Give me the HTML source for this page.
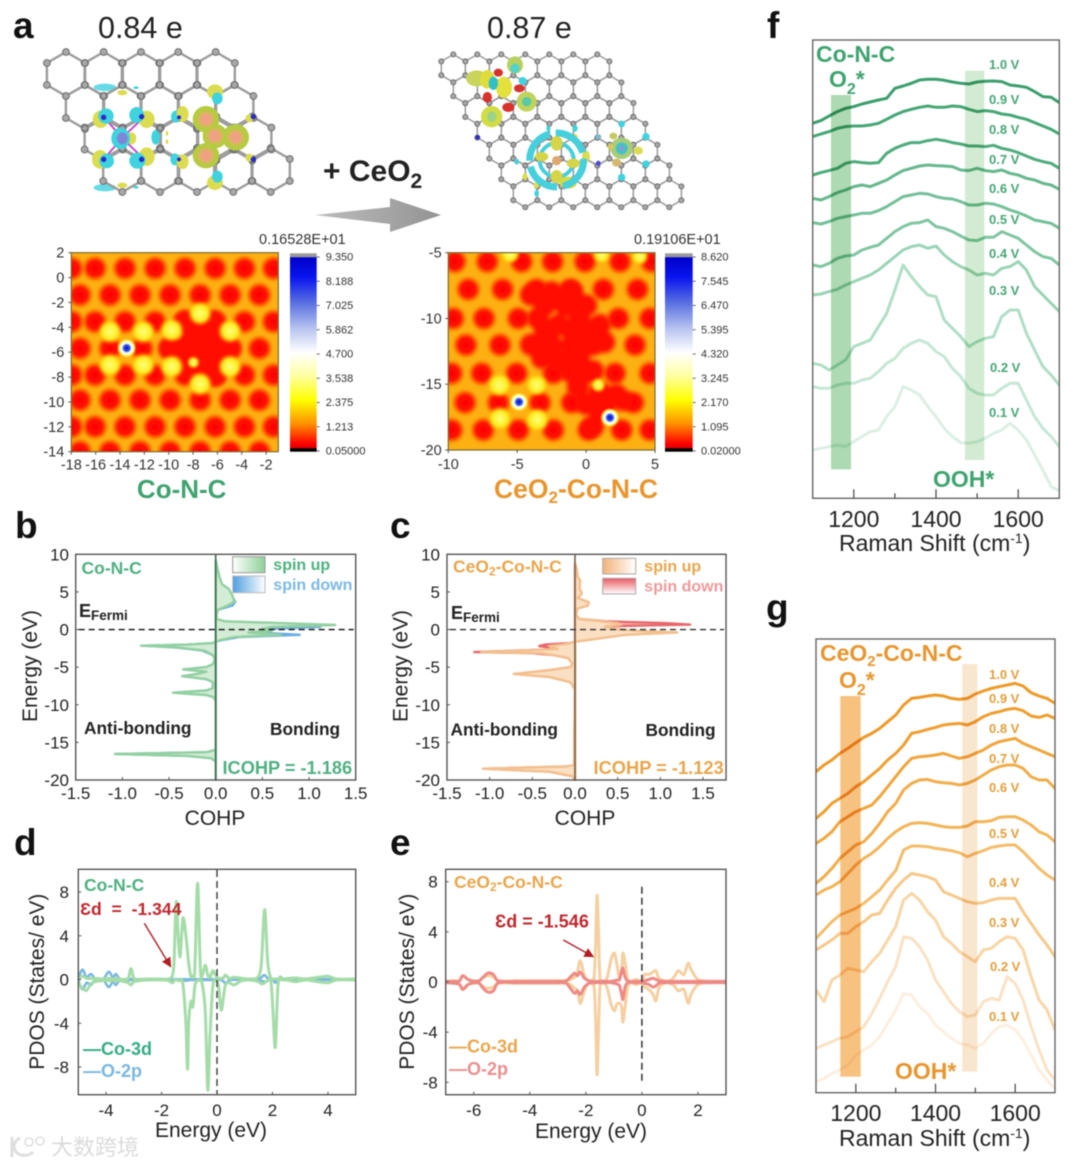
<!DOCTYPE html>
<html lang="en">
<head>
<meta charset="utf-8">
<title>Co-N-C and CeO2-Co-N-C charge, COHP, PDOS and Raman figure</title>
<style>
html,body{margin:0;padding:0;background:#fff;width:1080px;height:1166px;overflow:hidden}
svg{display:block;filter:blur(0.45px)}
text{font-family:"Liberation Sans","Noto Sans CJK SC",sans-serif;fill:#222}
.panel{font-size:37px;font-weight:bold;fill:#111}
.b{font-weight:bold}
.green{fill:#4fb082}
.dgreen{fill:#3fa36f}
.orange{fill:#e9a64c}
.dorange{fill:#e8962e}
.red{fill:#c0272d}
.volt-f{font-size:13px;font-weight:bold;fill:#46a676}
.volt-g{font-size:13px;font-weight:bold;fill:#e39f3c}
.tick{font-size:17px}
.axt{font-size:21px}
.hm{font-size:14.5px;fill:#333}
.cb{font-size:11px;fill:#333}
.ram{font-size:23px}
</style>
</head>
<body>
<svg id="fig" xmlns="http://www.w3.org/2000/svg" width="1080" height="1166" viewBox="0 0 1080 1166">
<defs>
<filter id="softField" x="-5%" y="-5%" width="110%" height="110%"><feGaussianBlur stdDeviation="1.1"/></filter>
<filter id="softCore" x="-10%" y="-10%" width="120%" height="120%"><feGaussianBlur stdDeviation="2.2"/></filter>
<radialGradient id="pitGrad"><stop offset="0" stop-color="#ff0000"/><stop offset="0.55" stop-color="#ff1000"/><stop offset="0.8" stop-color="#ff6a00" stop-opacity="0.85"/><stop offset="1" stop-color="#ffa000" stop-opacity="0"/></radialGradient>
<radialGradient id="spotGrad"><stop offset="0" stop-color="#ffff80"/><stop offset="0.6" stop-color="#ffee20"/><stop offset="1" stop-color="#ffb000" stop-opacity="0"/></radialGradient>
<radialGradient id="blueGrad"><stop offset="0" stop-color="#0010d0"/><stop offset="0.3" stop-color="#3050e0"/><stop offset="0.5" stop-color="#ffffff"/><stop offset="0.72" stop-color="#ffff90"/><stop offset="1" stop-color="#ffc000" stop-opacity="0"/></radialGradient>
<linearGradient id="cbGrad" x1="0" y1="0" x2="0" y2="1">
<stop offset="0" stop-color="#999"/><stop offset="0.018" stop-color="#999"/><stop offset="0.022" stop-color="#0000c8"/><stop offset="0.12" stop-color="#0a14f0"/><stop offset="0.25" stop-color="#5a70e0"/><stop offset="0.38" stop-color="#b8c4f0"/><stop offset="0.5" stop-color="#ffffff"/><stop offset="0.62" stop-color="#ffffa0"/><stop offset="0.74" stop-color="#ffff00"/><stop offset="0.86" stop-color="#ff9000"/><stop offset="0.96" stop-color="#ff0000"/><stop offset="0.98" stop-color="#e00000"/><stop offset="0.985" stop-color="#000"/><stop offset="1" stop-color="#000"/>
</linearGradient>
<linearGradient id="swGreen"><stop offset="0" stop-color="#fff"/><stop offset="1" stop-color="#8fd09a"/></linearGradient>
<linearGradient id="swBlue"><stop offset="0" stop-color="#4f9fe0"/><stop offset="1" stop-color="#fff"/></linearGradient>
<linearGradient id="swOrange"><stop offset="0" stop-color="#f2b27a"/><stop offset="1" stop-color="#fff"/></linearGradient>
<linearGradient id="swRed" x1="0" y1="0" x2="0" y2="1"><stop offset="0" stop-color="#ea5a62"/><stop offset="1" stop-color="#fff"/></linearGradient>
<linearGradient id="arrowGrad"><stop offset="0" stop-color="#bdbdbd"/><stop offset="1" stop-color="#939393"/></linearGradient>
<clipPath id="clipA"><rect x="71.3" y="252.7" width="207" height="199"/></clipPath>
<clipPath id="clipB"><rect x="448.3" y="252.7" width="206.7" height="197.3"/></clipPath>
<clipPath id="clipF"><rect x="812.7" y="40" width="246.6" height="458.3"/></clipPath>
<clipPath id="clipG"><rect x="816" y="639" width="239" height="453.7"/></clipPath>
<clipPath id="clipD"><rect x="78.3" y="869.3" width="277.4" height="225.4"/></clipPath>
<clipPath id="clipE"><rect x="445.7" y="869.3" width="280.3" height="225.4"/></clipPath>
<marker id="arrowHead" viewBox="0 0 10 10" refX="9" refY="5" markerWidth="7" markerHeight="7" orient="auto"><path d="M0 0L10 5L0 10z" fill="#b01e24"/></marker>
</defs>

<text class="panel" x="13" y="38">a</text>
<text class="panel" x="15" y="538">b</text>
<text class="panel" x="390" y="538">c</text>
<text class="panel" x="14" y="855">d</text>
<text class="panel" x="390" y="855">e</text>
<text class="panel" x="767" y="38">f</text>
<text class="panel" x="766" y="620">g</text>

<text x="98" y="38" font-size="30.5">0.84 e</text>
<text x="487" y="38" font-size="30.5">0.87 e</text>
<text x="323" y="181" font-size="30" class="b" fill="#111">+ CeO<tspan font-size="21" dy="7">2</tspan></text>
<polygon points="315,215 390,207 390,198 441,215 390,232 390,224" fill="url(#arrowGrad)"/>

<g id="structA"></g>
<g id="structB"></g>

<g id="mapA"></g>
<g id="mapB"></g>
<text x="259" y="244" class="hm">0.16528E+01</text>
<text x="634" y="244" class="hm">0.19106E+01</text>
<text x="181.7" y="498" font-size="26" text-anchor="middle" class="b dgreen">Co-N-C</text>
<text x="576" y="498" font-size="26.5" text-anchor="middle" class="b dorange">CeO<tspan font-size="17" dy="5">2</tspan><tspan dy="-5">-Co-N-C</tspan></text>

<g id="panelB"></g>
<g id="panelC"></g>
<g id="panelD"></g>
<g id="panelE"></g>
<g id="panelF"></g>
<g id="panelG"></g>

<g>
<text x="81.5" y="574" font-size="17.5" class="b green">Co-N-C</text>
<rect x="232.7" y="556.7" width="32.3" height="16" fill="url(#swGreen)" stroke="#999"/>
<rect x="232.7" y="576" width="32.3" height="16.7" fill="url(#swBlue)" stroke="#bbb"/>
<text x="273.3" y="570" font-size="16" class="b" style="fill:#4fb07f">spin up</text>
<text x="273.3" y="590" font-size="16" class="b" style="fill:#7bb9e3">spin down</text>
<text x="79" y="617" font-size="18" class="b">E<tspan font-size="13.5" dy="3">Fermi</tspan></text>
<text x="84" y="734" font-size="17.3" class="b">Anti-bonding</text>
<text x="270" y="735" font-size="17.3" class="b">Bonding</text>
<text x="222.5" y="774" font-size="18.2" class="b green">ICOHP = -1.186</text>
</g>
<g>
<text x="453" y="572.7" font-size="17.5" class="b orange">CeO<tspan font-size="12" dy="3">2</tspan><tspan dy="-3">-Co-N-C</tspan></text>
<rect x="602.7" y="558.3" width="33" height="15.7" fill="url(#swOrange)" stroke="#aaa"/>
<rect x="602.7" y="578.3" width="33" height="15.7" fill="url(#swRed)" stroke="#aaa"/>
<text x="644.3" y="571.7" font-size="16" class="b orange">spin up</text>
<text x="644.3" y="591.7" font-size="16" class="b" style="fill:#ec9a9a">spin down</text>
<text x="451" y="619" font-size="18" class="b">E<tspan font-size="13.5" dy="3">Fermi</tspan></text>
<text x="450.5" y="735.3" font-size="17.3" class="b">Anti-bonding</text>
<text x="645.5" y="736" font-size="17.3" class="b">Bonding</text>
<text x="593.5" y="774" font-size="18.3" class="b orange">ICOHP = -1.123</text>
</g>
<g>
<text x="84" y="891" font-size="17.5" class="b green">Co-N-C</text>
<text x="80" y="915" font-size="17.6" class="b red" xml:space="preserve">Ɛd  =  -1.344</text>
<line x1="144.3" y1="923.3" x2="170.7" y2="966.7" stroke="#b01e24" stroke-width="1.4" marker-end="url(#arrowHead)"/>
<text x="83" y="1055" font-size="18" class="b" style="fill:#35ad85">—Co-3d</text>
<text x="83" y="1077" font-size="18" class="b" style="fill:#7ab8e0">—O-2p</text>
</g>
<g>
<text x="454" y="888" font-size="17.5" class="b orange">CeO<tspan font-size="12" dy="3">2</tspan><tspan dy="-3">-Co-N-C</tspan></text>
<text x="495" y="927.3" font-size="18" class="b red">Ɛd = -1.546</text>
<line x1="563.3" y1="940" x2="593.3" y2="956.7" stroke="#b01e24" stroke-width="1.4" marker-end="url(#arrowHead)"/>
<text x="449" y="1052.7" font-size="18" class="b orange">—Co-3d</text>
<text x="449" y="1075" font-size="18" class="b" style="fill:#ea8f8f">—O-2p</text>
</g>

<g>
<text x="816" y="62" font-size="23" class="b dgreen">Co-N-C</text>
<text x="829" y="87" font-size="23" class="b dgreen">O<tspan font-size="16" dy="7">2</tspan><tspan dy="-7">*</tspan></text>
<text x="933" y="487" font-size="23" class="b dgreen">OOH*</text>
<text x="989" y="69" class="volt-f">1.0 V</text>
<text x="989" y="104" class="volt-f">0.9 V</text>
<text x="989" y="134" class="volt-f">0.8 V</text>
<text x="989" y="164" class="volt-f">0.7 V</text>
<text x="989" y="193" class="volt-f">0.6 V</text>
<text x="989" y="224" class="volt-f">0.5 V</text>
<text x="989" y="258" class="volt-f">0.4 V</text>
<text x="989" y="295" class="volt-f">0.3 V</text>
<text x="990" y="372" class="volt-f">0.2 V</text>
<text x="989" y="417" class="volt-f">0.1 V</text>
<text x="839" y="551" class="ram">Raman Shift (cm<tspan font-size="14" dy="-8">-1</tspan><tspan dy="8">)</tspan></text>
</g>
<g>
<text x="820" y="661" font-size="23" class="b dorange">CeO<tspan font-size="15" dy="5">2</tspan><tspan dy="-5">-Co-N-C</tspan></text>
<text x="839" y="688" font-size="23" class="b dorange">O<tspan font-size="16" dy="7">2</tspan><tspan dy="-7">*</tspan></text>
<text x="895" y="1079" font-size="23" class="b dorange">OOH*</text>
<text x="989" y="679" class="volt-g">1.0 V</text>
<text x="989" y="703" class="volt-g">0.9 V</text>
<text x="989" y="733" class="volt-g">0.8 V</text>
<text x="989" y="763" class="volt-g">0.7 V</text>
<text x="989" y="792" class="volt-g">0.6 V</text>
<text x="989" y="838" class="volt-g">0.5 V</text>
<text x="989" y="887" class="volt-g">0.4 V</text>
<text x="989" y="927" class="volt-g">0.3 V</text>
<text x="990" y="971" class="volt-g">0.2 V</text>
<text x="989" y="1021" class="volt-g">0.1 V</text>
<text x="839" y="1146" class="ram">Raman Shift (cm<tspan font-size="14" dy="-8">-1</tspan><tspan dy="8">)</tspan></text>
</g>

<g opacity="0.9">
<path d="M12 1137v20M20 1138c-8 4-8 14 1 17 5 1 9 0 12-3" fill="none" stroke="#dcdcdc" stroke-width="3"/>
<circle cx="29" cy="1142" r="4" fill="none" stroke="#dcdcdc" stroke-width="1.6"/>
<circle cx="40" cy="1141" r="4" fill="none" stroke="#dcdcdc" stroke-width="1.6"/>
<text x="51" y="1155" font-size="22" style="fill:#d8d8d8">大数跨境</text>
</g>
</svg>

<script>
/* ---------- chart data ---------- */
var heatXTicksA = [-18,-16,-14,-12,-10,-8,-6,-4,-2];
var heatYTicksA = [2,0,-2,-4,-6,-8,-10,-12,-14];
var heatXTicksB = [-10,-5,0,5];
var heatYTicksB = [-5,-10,-15,-20];
var cbLabelsA = ['9.350','8.188','7.025','5.862','4.700','3.538','2.375','1.213','0.05000'];
var cbLabelsB = ['8.620','7.545','6.470','5.395','4.320','3.245','2.170','1.095','0.02000'];

var pitRowYA = [0.74,-1.4,-3.55,-5.69,-7.84,-9.85,-12,-14];
var pitRowXA = [
 [-17.97,-16.05,-13.59,-11.12,-8.66,-6.19,-3.78,-1.4],
 [-17.29,-14.82,-12.36,-9.89,-7.42,-4.96,-2.55],
 [-17.97,-16.05,-13.59,-11.12,-8.66,-6.4,-3.78,-1.4],
 [-17.29,-14.82,-12.2,-9.89,-7.42,-4.96,-2.55],
 [-17.97,-16.05,-13.59,-11.12,-8.66,-6.19,-3.78,-1.4],
 [-17.29,-14.82,-12.36,-9.89,-7.42,-4.96,-2.55],
 [-17.97,-16.05,-13.59,-11.12,-8.66,-6.19,-3.78,-1.4],
 [-17.29,-14.82,-12.36,-9.89,-7.42,-4.96,-2.55]
];
var coreXA = [-8.66,-6.19,-7.4,-8.2,-7,-5.8,-9,-9.9,-5,-7.6,-6.4,-8.66,-6.19,-7.4,-6.19];
var coreYA = [-3.55,-3.55,-4.2,-5,-5,-5,-5.7,-5.7,-5.7,-6.5,-6.5,-7.2,-7.0,-7.2,-7.84];
var spotXA = [-14.82,-12.08,-9.75,-7.42,-4.96,-14.82,-12.08,-9.75,-7.42,-4.96,-7.97];
var spotYA = [-4.35,-4.35,-4.22,-2.88,-4.3,-7.03,-7.03,-7.17,-8.56,-7.17,-6.82];
var spotSizeA = [1,1,1,1,1,1,1,1,1,1,0.5];
var blueXA = [-13.45];
var blueYA = [-5.67];

var pitRowYB = [-5.68,-7.79,-10,-12.02,-14.17,-16.4,-18.48];
var pitRowXB = [
 [-9.52,-7.17,-4.68,-2.43,-0.08,2.46,4.76],
 [-8.55,-6.06,-3.59,-1.17,1.25,3.72],
 [-9.64,-7.41,-4.92,2.34,4.64],
 [-8.72,-6.25,3.55],
 [-9.76,-7.58,-5.04,-2.38,-0.2,2.1,4.64],
 [-8.79,-6.37,-3.35,-1.05,1.5,3.43],
 [-9.76,-7.46,-4.92,-2.38,0.16,2.58,4.64]
];
var coreXB = [-4,-2.5,-1,-3.5,-2,-0.5,1,-4,-2.5,-1,0.5,1.3,-2,-0.5,1,2.2,0,1,2.6,0.5,-3,-1.5,0,-3,-1,0,-3.2,-1.2,0.5,-0.6];
var coreYB = [-8.2,-8,-8,-10,-10.5,-10,-10.5,-12,-12,-12,-12,-11.8,-13.2,-13,-15.6,-15.8,-16.5,-17,-16.2,-18.2,-9,-9,-9,-11,-11,-11,-13,-14,-14,-15.2];
var spotXB = [-6.3,-3.59,-6.25,-3.54,0.89,-5.52,1.13,3.9];
var spotYB = [-15.06,-15.06,-17.6,-17.7,-15.06,-5.1,-5.18,-5.3];
var spotSizeB = [1,0.9,1,1,0.6,0.8,0.7,0.7];
var blueXB = [-4.87,1.73];
var blueYB = [-16.35,-17.54];

var cohpXTicks = [-1.5,-1.0,-0.5,0.0,0.5,1.0,1.5];
var cohpYTicks = [10,5,0,-5,-10,-15,-20];

var bEnergy = [9.2,8,7,6,5.4,4.5,3.7,3.2,2.6,2,1.4,1.1,0.85,0.6,0.35,0.1,-0.15,-0.4,-0.7,-1,-1.4,-1.6,-1.8,-2,-2.15,-2.4,-2.8,-3.4,-4,-4.6,-5,-5.3,-5.6,-5.9,-6.2,-6.6,-7,-7.8,-8.1,-8.4,-8.7,-9,-9.5,-16,-16.3,-16.55,-16.8,-17.1,-17.5,-20];
var bSpinUp = [0,0.02,0.04,0.07,0.14,0.18,0.2,0.13,0.02,0.01,0.01,0.1,0.7,1.28,0.6,0.5,0.6,0.35,0.7,0.2,0.05,0,-0.03,-0.3,-0.8,-0.4,-0.12,-0.03,-0.01,-0.03,-0.1,-0.35,-0.1,-0.2,-0.36,-0.1,-0.03,-0.03,-0.1,-0.46,-0.1,-0.02,0,0,-0.1,-1.08,-0.3,-0.05,0,0];
var bSpinDown = [0,0.02,0.04,0.06,0.13,0.17,0.21,0.18,0.02,0.01,0.01,0.08,0.5,1.0,1.12,0.6,0.5,0.45,0.9,0.25,0.07,0,-0.03,-0.3,-0.76,-0.42,-0.14,-0.03,-0.01,-0.03,-0.1,-0.34,-0.1,-0.2,-0.34,-0.1,-0.03,-0.03,-0.1,-0.44,-0.1,-0.02,0,0,-0.1,-1.05,-0.3,-0.05,0,0];

var cEnergy = [8.8,8,7,6.5,5.5,4.8,4.2,3.6,3.2,2.8,2,1.4,1.1,0.85,0.65,0.4,0.1,-0.15,-0.4,-0.7,-1,-1.4,-1.6,-1.8,-2,-2.2,-2.6,-3,-3.15,-3.4,-3.8,-4.5,-5,-5.4,-5.9,-6.3,-7,-8,-18,-18.2,-18.5,-18.9,-19.5,-20];
var cSpinUp = [0,0.02,0.03,0.06,0.05,0.08,0.03,0.16,0.15,0.03,0.01,0.05,0.3,0.5,0.55,0.35,0.45,0.7,1.2,0.6,0.4,0.15,0,-0.05,-0.15,-0.3,-0.2,-1.1,-0.4,-0.25,-0.08,-0.03,-0.05,-0.3,-0.72,-0.3,-0.05,0,-0.01,-0.1,-1.08,-0.3,-0.03,0];
var cSpinDown = [0,0.02,0.03,0.06,0.05,0.08,0.03,0.16,0.15,0.03,0.01,0.05,0.35,1.05,1.35,0.2,0.4,0.6,1.1,0.55,0.38,0.14,0,-0.06,-0.35,-0.42,-0.2,-1.18,-0.5,-0.25,-0.08,-0.03,-0.05,-0.3,-0.7,-0.3,-0.05,0,-0.01,-0.1,-1.05,-0.3,-0.03,0];

var dXTicks = [-4,-2,0,2,4];
var dYTicks = [8,4,0,-4,-8];
var dEnergy = [-5,-4.85,-4.7,-4.55,-4.4,-4.1,-3.9,-3.75,-3.65,-3.5,-3.2,-3.1,-3,-2.5,-2,-1.75,-1.6,-1.55,-1.47,-1.4,-1.33,-1.23,-1.12,-1.06,-1.02,-0.94,-0.87,-0.8,-0.7,-0.6,-0.54,-0.42,-0.33,-0.25,-0.15,-0.05,0.05,0.15,0.25,0.3,0.45,0.6,0.9,1.2,1.5,1.6,1.72,1.83,1.95,2.02,2.1,2.2,2.4,2.83,3.2,4,4.3,5];
var dCo3dUp = [0.1,0.3,0.1,0.1,0.1,0.05,0.1,0.05,0.1,0.05,0.1,1,0.1,0.05,0.05,0.05,0.4,1.5,7.1,4,2.1,5.6,4,2.5,1.5,0.3,0.3,0.9,8.8,0.9,0.3,1.3,0.4,0.2,0.8,0.4,0.1,0.1,0.2,0.4,0.1,0.2,0.1,0.05,0.3,1.5,6.4,1.5,0.1,0.05,0.05,0.05,0.05,0.15,0.05,0.3,0.05,0.05];
var dCo3dDown = [-0.3,-0.8,-1,-0.4,-0.2,-0.1,-0.1,-0.1,-0.1,-0.1,-0.3,-0.5,-0.2,-0.05,-0.05,-0.1,-0.3,-0.1,-0.05,-0.1,-0.1,-0.4,-4,-8.2,-4,-2,-2.5,-0.6,-0.1,-0.1,-0.3,-3,-10.1,-5,-0.6,-0.1,-0.5,-2.8,-1.3,-0.5,-0.3,-0.5,-0.1,-0.05,-0.2,-0.4,-0.3,-0.1,-0.3,-3,-6.2,-0.5,-0.05,-0.2,-0.05,-0.3,-0.05,-0.05];
var dO2pUp = [0.1,0.9,0.2,0.5,0.1,0.05,0.7,0.2,0.5,0.05,0.05,0.05,0.05,0.02,0.02,0.02,0.02,0.02,0.02,0.02,0.02,0.02,0.02,0.02,0.02,0.02,0.02,0.02,0.02,0.02,0.02,0.02,0.02,0.02,0.02,0.02,0.02,0.05,0.2,0.4,0.05,0.02,0.02,0.02,0.05,0.2,0.4,0.1,0.02,0.02,0.02,0.02,0.02,0.02,0.02,0.02,0.02,0.02];
var dO2pDown = [-0.1,-0.9,-0.3,-0.5,-0.1,-0.05,-0.7,-0.2,-0.5,-0.05,-0.05,-0.05,-0.05,-0.02,-0.02,-0.02,-0.05,-0.05,-0.05,-0.05,-0.05,-0.1,-0.1,-0.1,-0.05,-0.05,-0.05,-0.05,-0.05,-0.05,-0.05,-0.05,-0.05,-0.05,-0.02,-0.02,-0.02,-0.05,-0.2,-0.4,-0.05,-0.02,-0.02,-0.02,-0.05,-0.1,-0.2,-0.1,-0.02,-0.02,-0.3,-0.02,-0.02,-0.02,-0.02,-0.02,-0.02,-0.02];

var eXTicks = [-6,-4,-2,0,2];
var eYTicks = [8,4,0,-4,-8];
var eEnergy = [-7,-6.7,-6.5,-6.4,-6.2,-6,-5.8,-5.7,-5.5,-5.3,-5.15,-4.5,-3.5,-3,-2.7,-2.55,-2.4,-2.3,-2.2,-2.05,-1.9,-1.75,-1.7,-1.65,-1.6,-1.55,-1.5,-1.4,-1.25,-1.1,-0.98,-0.9,-0.8,-0.72,-0.68,-0.6,-0.5,-0.2,0,0.1,0.25,0.4,0.5,0.6,0.8,1,1.15,1.3,1.5,1.65,1.75,2,2.5,3];
var eCo3dUp = [0.05,0.1,0.1,0.5,0.2,0.1,0.1,0.3,0.5,0.4,0.1,0.1,0.1,0.1,0.1,0.2,0.4,0.8,1.7,0.5,0.1,0.2,0.5,3,6.9,4,0.4,0.1,0.3,1.8,2.3,1.5,0.3,1,2.3,1.5,0.2,0.2,0.1,0.6,0.6,0.8,0.9,0.3,0.1,0.1,0.4,0.9,0.6,1.5,1,0.2,0.05,0.05];
var eCo3dDown = [-0.05,-0.1,-0.2,-0.5,-0.2,-0.1,-0.1,-0.3,-0.5,-0.4,-0.1,-0.1,-0.1,-0.1,-0.1,-0.2,-0.5,-0.7,-1.7,-0.7,-0.1,-0.2,-0.5,-3,-7.4,-4,-0.5,-0.1,-0.4,-1.8,-2.3,-1.8,-1.7,-2,-3.2,-2,-0.3,-0.2,-0.1,-0.4,-0.6,-1,-1.5,-0.5,-0.1,-0.1,-0.3,-0.7,-0.6,-1.7,-1,-0.2,-0.05,-0.05];
var eO2pUp = [0.05,0.05,0.1,0.5,0.2,0.05,0.1,0.3,0.7,0.6,0.1,0.05,0.05,0.05,0.1,0.4,0.7,0.5,0.8,0.3,0.1,0.05,0.05,0.05,0.05,0.05,0.05,0.05,0.05,0.05,0.1,0.15,0.2,0.9,1.1,0.4,0.05,0.05,0.05,0.1,0.2,0.3,0.2,0.1,0.05,0.05,0.05,0.05,0.05,0.05,0.05,0.05,0.05,0.05];
var eO2pDown = [-0.05,-0.1,-0.2,-0.6,-0.2,-0.05,-0.1,-0.4,-0.8,-0.7,-0.1,-0.05,-0.05,-0.05,-0.1,-0.5,-0.9,-0.7,-1,-0.4,-0.1,-0.05,-0.05,-0.05,-0.05,-0.05,-0.05,-0.05,-0.05,-0.05,-0.1,-0.15,-0.3,-1,-1.4,-0.4,-0.05,-0.05,-0.05,-0.1,-0.2,-0.4,-0.3,-0.1,-0.05,-0.05,-0.05,-0.05,-0.05,-0.05,-0.05,-0.05,-0.05,-0.05];

var ramanTicks = [1200,1400,1600];
var ramanMinorTicks = [1300,1500];
var ramanShift = [1100,1120,1140,1160,1180,1200,1220,1240,1260,1280,1300,1320,1340,1360,1380,1400,1420,1440,1460,1480,1500,1520,1540,1560,1580,1600,1620,1640,1660,1680,1700];
var fV10 = [1125,1133,1147,1160,1170,1175,1183,1189,1195,1200,1230,1237,1245,1255,1257,1257,1254,1249,1245,1243,1249,1251,1252,1250,1240,1237,1233,1220,1205,1203,1187];
var fV09 = [1085,1093,1100,1110,1115,1117,1117,1120,1125,1137,1150,1160,1167,1173,1177,1173,1173,1177,1175,1167,1160,1163,1160,1153,1150,1143,1137,1127,1117,1107,1093];
var fV08 = [970,977,983,990,1005,1010,1007,1005,1007,1035,1050,1060,1067,1067,1073,1077,1073,1067,1063,1057,1057,1055,1059,1050,1045,1037,1027,1017,1010,1005,990];
var fV07 = [900,895,905,917,925,935,940,935,945,955,970,983,990,997,1000,998,997,995,985,983,990,983,980,985,975,970,960,955,945,940,927];
var fV06 = [827,823,830,840,845,850,855,855,863,875,890,905,910,915,913,905,900,898,890,880,880,885,883,875,865,857,847,835,830,825,810];
var fV05 = [700,695,705,720,727,730,745,753,760,780,800,815,825,827,835,815,810,800,787,775,773,783,783,800,790,780,760,740,725,720,700];
var fV04 = [610,613,620,627,640,650,660,670,685,705,725,745,755,760,750,757,730,710,695,685,670,675,670,690,695,710,685,635,610,585,560];
var fV03 = [405,400,385,400,415,455,465,475,515,555,625,700,665,635,610,605,535,510,485,455,470,480,485,545,565,565,495,445,395,370,340];
var fV02 = [335,330,330,340,345,345,355,360,380,405,420,450,465,475,465,440,425,390,365,330,315,310,310,330,345,345,295,245,210,185,155];
var fV01 = [145,150,155,160,155,170,185,200,205,245,275,335,325,310,275,245,210,185,167,165,170,180,195,205,225,205,175,130,85,35,23];

var gV10 = [963,983,998,1018,1033,1050,1066,1078,1093,1113,1133,1163,1183,1186,1190,1193,1190,1183,1180,1183,1196,1205,1213,1218,1223,1228,1220,1200,1190,1183,1168];
var gV09 = [823,843,868,883,898,918,933,953,973,998,1018,1043,1078,1083,1090,1096,1103,1106,1108,1103,1113,1128,1138,1143,1150,1153,1146,1130,1126,1133,1123];
var gV08 = [748,763,783,813,828,843,853,863,888,918,948,978,1003,1008,1010,1013,1018,1010,1003,1008,1018,1028,1043,1053,1058,1063,1048,1038,1028,1018,1008];
var gV07 = [628,648,673,703,723,743,753,778,808,843,868,908,928,938,940,933,930,928,923,928,938,953,968,978,983,983,973,948,938,938,913];
var gV06 = [593,608,618,633,658,683,703,718,738,763,783,798,808,810,808,803,798,796,796,800,813,813,816,826,828,828,818,803,783,773,753];
var gV05 = [463,488,513,533,543,553,568,588,608,638,666,728,740,740,738,733,730,726,720,708,718,726,736,740,743,743,723,698,673,653,638];
var gV04 = [428,443,458,478,478,498,513,533,538,578,613,638,658,653,648,638,603,593,583,573,568,570,578,583,583,583,543,508,473,443,408];
var gV03 = [308,273,338,353,373,368,363,393,418,458,498,578,598,578,543,518,468,448,423,408,393,428,433,453,468,463,428,348,278,248,188];
var gV02 = [133,143,153,163,168,183,198,238,283,333,378,468,463,438,398,338,303,268,243,228,233,273,283,278,348,328,278,198,128,68,38];
var gV01 = [33,43,58,68,83,113,128,143,168,208,248,298,293,258,238,203,183,163,148,143,133,148,178,198,203,188,158,113,68,38,13];

/* ---------- helpers ---------- */
var NS = 'http://www.w3.org/2000/svg';
function make(tag, attrs, parent) {
  var el = document.createElementNS(NS, tag);
  for (var k in attrs) el.setAttribute(k, attrs[k]);
  parent.appendChild(el);
  return el;
}
function scale(d0, d1, r0, r1) {
  return function (v) { return r0 + (v - d0) * (r1 - r0) / (d1 - d0); };
}
function byId(id) { return document.getElementById(id); }

/* ---------- structures ---------- */
function lattice(parent, rows, R, bondW, atomR) {
  var W = R * Math.sqrt(3) / 2, bonds = '', atoms = '';
  rows.forEach(function (row) {
    row[1].forEach(function (cx) {
      var cy = row[0];
      var pts = [[cx, cy - R], [cx + W, cy - R / 2], [cx + W, cy + R / 2], [cx, cy + R], [cx - W, cy + R / 2], [cx - W, cy - R / 2]];
      bonds += 'M' + pts.map(function (p) { return p[0].toFixed(1) + ' ' + p[1].toFixed(1); }).join('L') + 'Z';
      pts.forEach(function (p) {
        atoms += 'M' + (p[0] - atomR).toFixed(1) + ' ' + p[1].toFixed(1) + 'a' + atomR + ' ' + atomR + ' 0 1 0 ' + (2 * atomR) + ' 0a' + atomR + ' ' + atomR + ' 0 1 0 ' + (-2 * atomR) + ' 0z';
      });
    });
  });
  var b = make('path', { d: bonds, fill: 'none', stroke: '#9c9c9c', 'stroke-width': bondW }, parent);
  
  
  var a = make('path', { d: atoms, fill: '#a8a8a8', stroke: '#6f6f6f', 'stroke-width': 1 }, parent);
  
  
}
function blobs(parent, list, ox) {
  list.forEach(function (b) {
    var e = make('ellipse', { cx: ox + b[0] / 3, cy: b[1] / 3, rx: b[2] / 3, ry: b[3] / 3, fill: b[4], opacity: b[5] === undefined ? 1 : b[5] }, parent);
    
    
  });
}
var CY = '#3fd2df', YE = '#dcdc50', OL = '#b6ca42', SA = '#f0a184', NB = '#2a2ac8', RD = '#d8322c';
var rowsA = [[74, [66, 103.7, 141, 178.3, 215.7]], [107, [85, 122.3, 159.7, 197, 234.3]], [138.5, [103.7, 141.7, 179, 216.3, 252.3]], [170, [122.3, 160, 197, 233.3, 270.7]]];
blobs(byId('structA'), [[315, 262, 34, 11, CY, 0.8], [315, 563, 34, 11, CY, 0.8], [367, 278, 15, 8, YE], [367, 556, 15, 8, YE], [408, 263, 8, 4, CY], [408, 562, 8, 4, CY]], 0);
lattice(byId('structA'), rowsA, 22, 2.4, 3.4);
var bondsPink = make('path', { d: 'M104 117L122 138L144 117M104 159L122 138L144 159', fill: 'none', stroke: '#c050c8', 'stroke-width': 2 }, byId('structA'));


blobs(byId('structA'), [
 [302, 358, 24, 26, YE], [318, 348, 23, 23, CY], [440, 358, 24, 26, YE], [410, 345, 22, 24, CY],
 [300, 478, 24, 28, YE], [320, 483, 22, 22, CY], [440, 470, 24, 28, YE], [412, 482, 24, 24, CY],
 [395, 415, 14, 18, YE], [362, 415, 28, 32, CY], [367, 415, 16, 18, '#7f86d8'],
 [467, 412, 13, 22, CY], [501, 400, 4, 7, YE], [501, 425, 4, 7, YE],
 [527, 350, 14, 18, CY], [548, 342, 18, 24, YE], [525, 478, 14, 18, CY], [548, 485, 18, 22, YE],
 [645, 275, 24, 22, YE], [652, 295, 16, 18, CY], [645, 548, 24, 22, YE], [652, 530, 16, 18, CY],
 [748, 355, 12, 12, YE], [748, 473, 12, 12, YE],
 [618, 358, 40, 40, OL], [618, 467, 40, 38, OL], [707, 412, 40, 40, OL], [645, 408, 37, 37, OL],
 [618, 358, 24, 24, '#e8b06a', 0.7], [618, 467, 24, 24, '#e8b06a', 0.7], [707, 412, 24, 24, '#e8b06a', 0.7], [645, 408, 24, 24, '#e8b06a', 0.7],
 [618, 358, 17, 17, SA], [618, 467, 17, 17, SA], [707, 412, 17, 17, SA], [645, 408, 17, 17, SA],
 [311, 352, 8, 8, NB], [425, 350, 8, 8, NB], [311, 478, 8, 8, NB], [425, 478, 8, 8, NB],
 [537, 352, 6, 6, NB], [537, 478, 6, 6, NB], [760, 350, 8, 8, NB], [760, 478, 8, 8, NB]
], 0);

var rowsB = [];
[[205, 160], [268, 196], [330, 232], [392, 268], [455, 304], [517, 340], [580, 376]].forEach(function (r) {
  var xs = [];
  for (var i = 0; i < 7; i++) xs.push(400 + (r[1] + i * 72) / 3);
  rowsB.push([r[0] / 3, xs]);
});
lattice(byId('structB'), rowsB, 13.9, 1.5, 2.5);
blobs(byId('structB'), [
 [262, 292, 14, 16, RD], [295, 218, 14, 12, RD], [325, 322, 18, 14, RD], [358, 265, 16, 12, RD],
 [230, 235, 32, 24, '#c8d45c'], [262, 238, 22, 28, '#e0dc3c'], [345, 195, 24, 26, '#b8d060'], [345, 205, 14, 14, CY, 0.85],
 [380, 305, 30, 30, '#c0d45c'], [380, 305, 14, 14, '#58c8a8'], [275, 350, 32, 32, '#d2dc44'], [275, 350, 14, 16, '#9ad48a'],
 [312, 262, 24, 32, '#e4e03c'], [280, 250, 14, 20, '#2fc0c8'], [368, 243, 12, 12, CY],
 [233, 412, 7, 7, NB],
 [665, 372, 10, 10, CY], [738, 410, 11, 11, CY], [738, 492, 11, 11, CY], [665, 532, 11, 11, CY],
 [595, 490, 7, 8, '#4a4ad0'], [595, 410, 9, 7, '#7fb8d0'], [350, 485, 7, 9, CY], [375, 530, 8, 10, YE], [410, 580, 7, 10, CY], [445, 385, 6, 8, CY], [525, 385, 8, 10, CY], [525, 410, 8, 8, YE], [558, 470, 12, 18, YE], [505, 548, 26, 18, '#d8dc40'], [410, 555, 8, 10, YE]
], 400);
var ring = make('circle', { cx: 400 + 470 / 3, cy: 480 / 3, r: 27, fill: 'none', stroke: '#46cfdc', 'stroke-width': 7, 'stroke-dasharray': '36 6' }, byId('structB'));


var ring2 = make('circle', { cx: 400 + 470 / 3, cy: 480 / 3, r: 17, fill: 'none', stroke: '#46cfdc', 'stroke-width': 4 }, byId('structB'));


blobs(byId('structB'), [
 [470, 430, 18, 22, '#d6d448'], [425, 470, 20, 14, '#d6d448'], [520, 490, 20, 14, '#d6d448'], [470, 530, 18, 20, '#d6d448'], [470, 482, 14, 14, '#e0a870'],
 [665, 445, 34, 32, '#a8cc78'], [665, 445, 18, 18, '#3fc4c8'], [632, 440, 9, 10, '#d4c85c'], [715, 452, 14, 12, YE], [650, 488, 14, 12, '#d4b86c'], [640, 408, 12, 10, '#c8c860'], [665, 445, 8, 8, '#8a9ad0']
], 400);

/* ---------- density maps ---------- */
function heatMap(parent, box, xDom, yDom, rowY, rowX, coreX, coreY, spotX, spotY, spotSize, blueX, blueY, clip, xTicks, yTicks, cbX, cbW, cbLabels, cbLabelX, yLabelX, xLabelY) {
  var xS = scale(xDom[0], xDom[1], box.x, box.x + box.w);
  var yS = scale(yDom[0], yDom[1], box.y, box.y + box.h);
  var bg = make('rect', { x: box.x, y: box.y, width: box.w, height: box.h, fill: '#fdb012' }, parent);
  
  
  var clipper = make('g', { 'clip-path': 'url(#' + clip + ')' }, parent);
  
  
  var inner = make('g', { filter: 'url(#softField)' }, clipper);
  
  
  rowY.forEach(function (y, i) {
    rowX[i].forEach(function (x) {
      var c = make('circle', { cx: xS(x), cy: yS(y), r: 14, fill: 'url(#pitGrad)' }, inner);
      
      
    });
  });
  var coreGroup = make('g', { filter: 'url(#softCore)', fill: '#ff0a00' }, clipper);
  
  
  coreX.forEach(function (x, i) {
    var c = make('circle', { cx: xS(x), cy: yS(coreY[i]), r: 11 }, coreGroup);
    
    
  });
  var spotGroup = make('g', { filter: 'url(#softField)' }, clipper);
  
  
  spotX.forEach(function (x, i) {
    var c = make('circle', { cx: xS(x), cy: yS(spotY[i]), r: 13 * spotSize[i], fill: 'url(#spotGrad)' }, spotGroup);
    
    
  });
  blueX.forEach(function (x, i) {
    var c = make('circle', { cx: xS(x), cy: yS(blueY[i]), r: 10, fill: 'url(#blueGrad)' }, clipper);
    
    
  });
  var fr = make('rect', { x: box.x, y: box.y, width: box.w, height: box.h, fill: 'none', stroke: '#7a6a30', 'stroke-width': 1.2 }, parent);
  
  
  xTicks.forEach(function (t) {
    var l = make('line', { x1: xS(t), x2: xS(t), y1: box.y + box.h, y2: box.y + box.h + 3, stroke: '#555' }, parent);
    
    
    var s = make('text', { x: xS(t), y: xLabelY, 'text-anchor': 'middle', 'class': 'hm' }, parent);
    s.textContent = t;
    
    
  });
  yTicks.forEach(function (t) {
    var l = make('line', { x1: box.x - 3, x2: box.x, y1: yS(t), y2: yS(t), stroke: '#555' }, parent);
    
    
    var s = make('text', { x: yLabelX, y: yS(t) + 5, 'text-anchor': 'end', 'class': 'hm' }, parent);
    s.textContent = t;
    
    
  });
  var cb = make('rect', { x: cbX, y: 253.3, width: cbW, height: 198.4, fill: 'url(#cbGrad)' }, parent);
  
  
  var cbS = scale(0, cbLabels.length - 1, 257, 451);
  cbLabels.forEach(function (t, i) {
    var l = make('line', { x1: cbX + cbW, x2: cbX + cbW + 3, y1: cbS(i), y2: cbS(i), stroke: '#666' }, parent);
    
    
    var s = make('text', { x: cbLabelX, y: cbS(i) + 3.5, 'class': 'cb' }, parent);
    s.textContent = t;
    
    
  });
}
heatMap(byId('mapA'), { x: 71.3, y: 252.7, w: 207, h: 199 }, [-18, -1], [2, -14], pitRowYA, pitRowXA, coreXA, coreYA, spotXA, spotYA, spotSizeA, blueXA, blueYA, 'clipA', heatXTicksA, heatYTicksA, 290, 26.7, cbLabelsA, 325.7, 64.3, 469.5);
heatMap(byId('mapB'), { x: 448.3, y: 252.7, w: 206.7, h: 197.3 }, [-10, 5], [-5, -20], pitRowYB, pitRowXB, coreXB, coreYB, spotXB, spotYB, spotSizeB, blueXB, blueYB, 'clipB', heatXTicksB, heatYTicksB, 665, 27.7, cbLabelsB, 701, 441.7, 469);

/* ---------- generic axes ---------- */
function frame(parent, x, y, w, h, color) {
  var r = make('rect', { x: x, y: y, width: w, height: h, fill: 'none', stroke: color, 'stroke-width': 1.4 }, parent);
  
  
}
function axisTicks(parent, xTicks, yTicks, xS, yS, left, bottom, xLabelY, yLabelX) {
  xTicks.forEach(function (t) {
    var l = make('line', { x1: xS(t), x2: xS(t), y1: bottom - 3, y2: bottom, stroke: '#555' }, parent);
    
    
    var s = make('text', { x: xS(t), y: xLabelY, 'text-anchor': 'middle', 'class': 'tick' }, parent);
    s.textContent = Number.isInteger(t) && xTicks.length === 5 ? t : t.toFixed(1);
    
    
  });
  yTicks.forEach(function (t) {
    var l = make('line', { x1: left, x2: left + 3, y1: yS(t), y2: yS(t), stroke: '#555' }, parent);
    
    
    var s = make('text', { x: yLabelX, y: yS(t) + 6, 'text-anchor': 'end', 'class': 'tick' }, parent);
    s.textContent = t;
    
    
  });
}
function titles(parent, xt, xx, xy, yt, yx, yy) {
  var a = make('text', { x: xx, y: xy, 'text-anchor': 'middle', 'class': 'axt' }, parent);
  a.textContent = xt;
  
  
  var b = make('text', { x: 0, y: 0, 'text-anchor': 'middle', 'class': 'axt', transform: 'translate(' + yx + ' ' + yy + ') rotate(-90)' }, parent);
  b.textContent = yt;
  
  
}

/* ---------- COHP ---------- */
function cohpArea(parent, energy, values, xS, yS, fill, stroke, name) {
  var d = 'M' + xS(0) + ' ' + yS(energy[0]);
  energy.forEach(function (e, i) { d += 'L' + xS(values[i]).toFixed(1) + ' ' + yS(e).toFixed(1); });
  d += 'L' + xS(0) + ' ' + yS(energy[energy.length - 1]) + 'Z';
  var p = make('path', { d: d, fill: fill, stroke: stroke, 'stroke-width': 2.4, 'stroke-linejoin': 'round' }, parent);
  
  
}
function cohpPanel(parent, box, xMax, energy, up, down, upFill, upStroke, downFill, downStroke, axisColor, dashColor, yLabelX, xTitleX, yTitleX) {
  var xS = scale(-1.5, 1.5, box.x0, box.x1);
  var yS = scale(10, -20, box.y, box.y + box.h);
  cohpArea(parent, energy, down, xS, yS, downFill, downStroke, 'spin-down-cohp');
  cohpArea(parent, energy, up, xS, yS, upFill, upStroke, 'spin-up-cohp');
  var right = xS(xMax);
  frame(parent, box.x0, box.y, right - box.x0, box.h, '#555');
  var z = make('line', { x1: xS(0), x2: xS(0), y1: box.y, y2: box.y + box.h, stroke: axisColor, 'stroke-width': 1.6 }, parent);
  
  
  var f = make('line', { x1: box.x0 + 3, x2: right - 2, y1: yS(0), y2: yS(0), stroke: dashColor, 'stroke-width': 1.4, 'stroke-dasharray': '6 4' }, parent);
  
  
  axisTicks(parent, cohpXTicks, cohpYTicks, xS, yS, box.x0, box.y + box.h, 799, yLabelX);
  titles(parent, 'COHP', xTitleX, 825, 'Energy (eV)', yTitleX, 666);
}
cohpPanel(byId('panelB'), { x0: 75.7, x1: 355.7, y: 554.3, h: 225.7 }, 1.5, bEnergy, bSpinUp, bSpinDown, '#d3ecd6', '#93d0a2', '#cfe5f6', '#6aaee0', '#3f6a50', '#111', 69, 215, 37);
cohpPanel(byId('panelC'), { x0: 447, x1: 703, y: 554.3, h: 225.7 }, 1.77, cEnergy, cSpinUp, cSpinDown, '#fbdfc2', '#f3c08e', '#f6b9b0', '#e8686e', '#76624a', '#333', 440, 585, 407.7);

/* ---------- line drawing ---------- */
function line2(parent, xs, ys, xS, yS, color, w, name, clip, smooth) {
  var px = xs.map(xS), py = ys.map(yS), d = 'M' + px[0].toFixed(1) + ' ' + py[0].toFixed(1);
  for (var i = 1; i < px.length; i++) {
    if (smooth) {
      var a = Math.max(i - 2, 0), c = Math.min(i + 1, px.length - 1);
      var dx = (px[i] - px[i - 1]) / 3;
      var s0 = (py[i] - py[a]) / Math.max(px[i] - px[a], 0.01);
      var s1 = (py[c] - py[i - 1]) / Math.max(px[c] - px[i - 1], 0.01);
      d += 'C' + (px[i - 1] + dx).toFixed(1) + ' ' + (py[i - 1] + s0 * dx).toFixed(1) + ' ' + (px[i] - dx).toFixed(1) + ' ' + (py[i] - s1 * dx).toFixed(1) + ' ' + px[i].toFixed(1) + ' ' + py[i].toFixed(1);
    } else {
      d += 'L' + px[i].toFixed(1) + ' ' + py[i].toFixed(1);
    }
  }
  var p = make('path', { d: d, fill: 'none', stroke: color, 'stroke-width': w, 'stroke-linejoin': 'round', 'stroke-linecap': 'round' }, parent);
  if (clip) p.setAttribute('clip-path', 'url(#' + clip + ')');
  
  
}

/* ---------- PDOS ---------- */
(function () {
  var g = byId('panelD');
  var xS = scale(-5, 5, 78.3, 355.7), yS = scale(8, -8, 892, 1067);
  line2(g, dEnergy, dO2pUp, xS, yS, '#7ab8e0', 2.6, 'o-2p-spin-up', 'clipD', true);
  line2(g, dEnergy, dO2pDown, xS, yS, '#7ab8e0', 2.6, 'o-2p-spin-down', 'clipD', true);
  line2(g, dEnergy, dCo3dUp, xS, yS, '#a4dca8', 3, 'co-3d-spin-up', 'clipD', true);
  line2(g, dEnergy, dCo3dDown, xS, yS, '#a4dca8', 3, 'co-3d-spin-down', 'clipD', true);
  frame(g, 78.3, 869.3, 277.4, 225.4, '#555');
  var f = make('line', { x1: xS(0), x2: xS(0), y1: 870, y2: 1094, stroke: '#444', 'stroke-width': 1.5, 'stroke-dasharray': '7 4' }, g);
  
  
  axisTicks(g, dXTicks, dYTicks, xS, yS, 78.3, 1094.7, 1116, 69);
  titles(g, 'Energy (eV)', 211, 1137, 'PDOS (States/ eV)', 44, 981.7);
})();
(function () {
  var g = byId('panelE');
  var xS = scale(-7, 3, 445.7, 726), yS = scale(8, -8, 881.7, 1082.3);
  line2(g, eEnergy, eCo3dUp, xS, yS, '#f5cfa0', 3, 'co-3d-spin-up', 'clipE', true);
  line2(g, eEnergy, eCo3dDown, xS, yS, '#f5cfa0', 3, 'co-3d-spin-down', 'clipE', true);
  line2(g, eEnergy, eO2pUp, xS, yS, '#ee8a85', 3, 'o-2p-spin-up', 'clipE', true);
  line2(g, eEnergy, eO2pDown, xS, yS, '#ee8a85', 3, 'o-2p-spin-down', 'clipE', true);
  frame(g, 445.7, 869.3, 280.3, 225.4, '#555');
  var f = make('line', { x1: xS(0), x2: xS(0), y1: 886.7, y2: 1081.7, stroke: '#333', 'stroke-width': 1.5, 'stroke-dasharray': '7 4' }, g);
  
  
  axisTicks(g, eXTicks, eYTicks, xS, yS, 445.7, 1094.7, 1116, 437.7);
  titles(g, 'Energy (eV)', 591, 1138, 'PDOS (States/ eV)', 414, 981.7);
})();

/* ---------- Raman ---------- */
function ramanPanel(parent, box, series, colors, names, clip, bands, bandColors, tickLabelY) {
  var xS = scale(1100, 1700, box.x, box.x + box.w);
  var yS = scale(0, 3 * box.h, box.y + box.h, box.y);
  series.forEach(function (s, i) {
    line2(parent, ramanShift, s, xS, yS, colors[i], 3, names[i], clip, false);
  });
  bands.forEach(function (b, i) {
    var r = make('rect', { x: b[0], y: b[2], width: b[1] - b[0], height: b[3] - b[2], fill: bandColors[i], style: 'mix-blend-mode:multiply' }, parent);
    
    
  });
  frame(parent, box.x, box.y, box.w, box.h, '#666');
  var bottom = box.y + box.h;
  ramanTicks.forEach(function (t) {
    var l = make('line', { x1: xS(t), x2: xS(t), y1: bottom - 9, y2: bottom, stroke: '#444', 'stroke-width': 1.2 }, parent);
    
    
    var s = make('text', { x: xS(t), y: tickLabelY, 'text-anchor': 'middle', 'class': 'ram' }, parent);
    s.textContent = t;
    
    
  });
  ramanMinorTicks.forEach(function (t) {
    var l = make('line', { x1: xS(t), x2: xS(t), y1: bottom - 5, y2: bottom, stroke: '#444', 'stroke-width': 1.2 }, parent);
    
    
  });
}
var voltNames = ['spectrum-1-0-v', 'spectrum-0-9-v', 'spectrum-0-8-v', 'spectrum-0-7-v', 'spectrum-0-6-v', 'spectrum-0-5-v', 'spectrum-0-4-v', 'spectrum-0-3-v', 'spectrum-0-2-v', 'spectrum-0-1-v'];
ramanPanel(byId('panelF'), { x: 812.7, y: 40, w: 246.6, h: 458.3 },
  [fV10, fV09, fV08, fV07, fV06, fV05, fV04, fV03, fV02, fV01],
  ['#3b9f6e', '#45a776', '#4fac7e', '#66b88f', '#75c09a', '#80c6a3', '#9bd4b7', '#b0dec6', '#c6e7d6', '#dcefe5'],
  voltNames, 'clipF',
  [[831, 851, 95, 469.3], [965, 984.3, 70.7, 460]],
  ['#add9b3', '#d2ebd2'], 527);
ramanPanel(byId('panelG'), { x: 816, y: 639, w: 239, h: 453.7 },
  [gV10, gV09, gV08, gV07, gV06, gV05, gV04, gV03, gV02, gV01],
  ['#ee9a28', '#ef9f2f', '#f0a63c', '#f1ad4a', '#f3b558', '#f4bd6a', '#f6c98a', '#f8d6a6', '#fae2c4', '#fcefdf'],
  voltNames, 'clipG',
  [[840.3, 860.7, 696, 1076.7], [962.3, 977.3, 664, 1071.7]],
  ['#f7c280', '#f9e6cf'], 1121);
</script>
</body>
</html>
